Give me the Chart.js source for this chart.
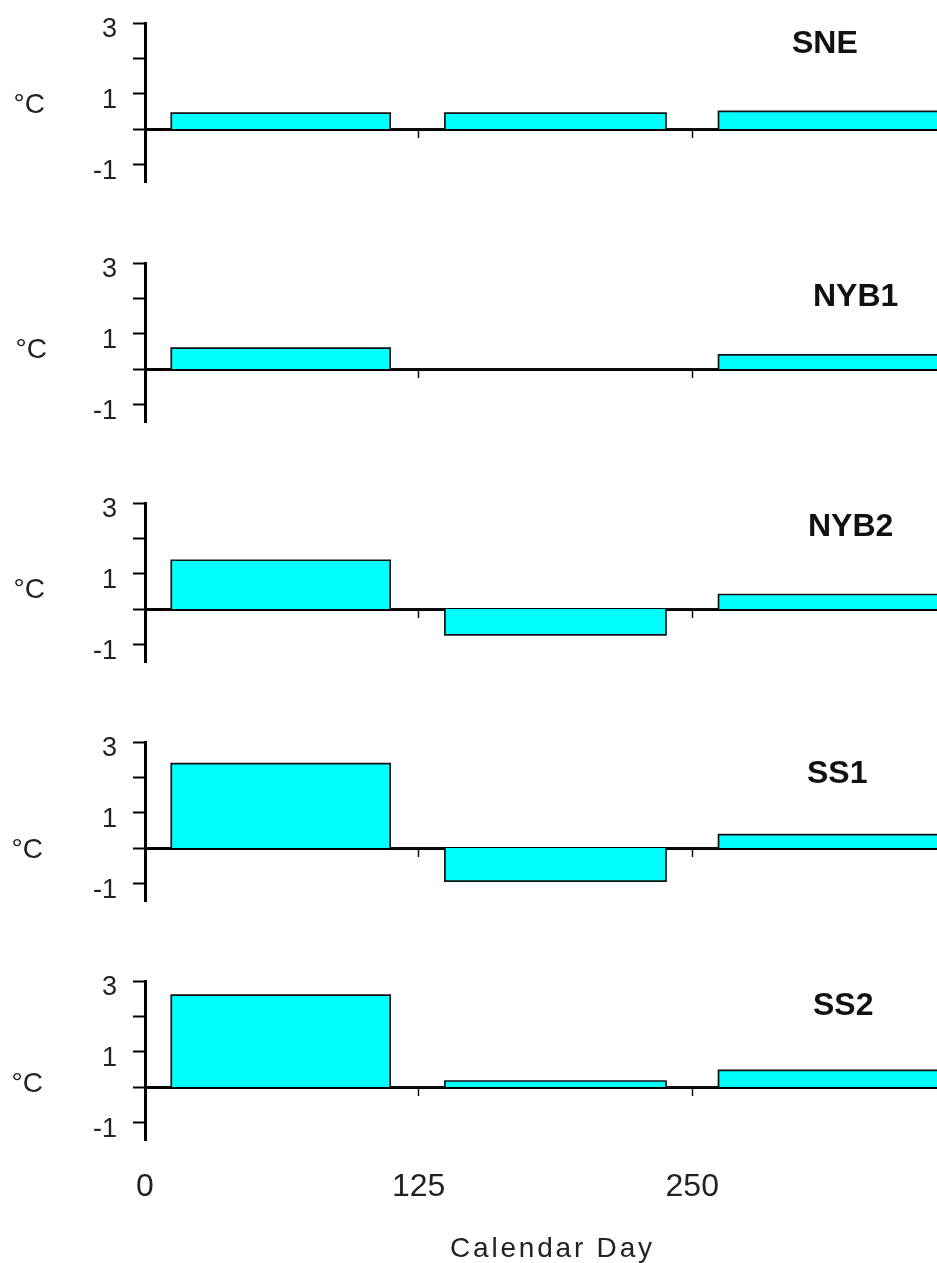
<!DOCTYPE html>
<html>
<head>
<meta charset="utf-8">
<script src="https://cdn.jsdelivr.net/npm/chart.js@4.4.1/dist/chart.umd.min.js"></script>
<style>
  html, body { margin: 0; padding: 0; background: #fff; overflow: hidden; width: 937px; height: 1263px; }
  #stage { position: relative; width: 937px; height: 1263px; overflow: hidden; }
  #stage canvas { position: absolute; left: 0; }
  .lbl { position: absolute; font-family: "Liberation Sans", Arial, sans-serif; color: #111; white-space: nowrap; line-height: 1; }
  .region { font-weight: bold; font-size: 32px; }
  .unit { font-size: 28px; color: #222; }
  .xtitle { font-size: 28px; letter-spacing: 2.8px; color: #222; }
</style>
</head>
<body>
<div id="stage"></div>
<script>
// Seasonal temperature anomaly per region (°C), one value per period
const regions = ['SNE', 'NYB1', 'NYB2', 'SS1', 'SS2'];
const periodStart = [12, 137, 262];   // calendar day each period begins
const periodEnd = [112, 238, 365];    // calendar day each period ends
const sneValues = [0.45, 0.45, 0.5];
const nyb1Values = [0.59, 0, 0.40];
const nyb2Values = [1.38, -0.73, 0.41];
const ss1Values = [2.39, -0.94, 0.38];
const ss2Values = [2.6, 0.17, 0.47];
const regionValues = [sneValues, nyb1Values, nyb2Values, ss1Values, ss2Values];

// Axis ticks
const yTicks = [3, 2, 1, 0, -1];
const yLabelled = [3, 1, -1];
const xTicks = [0, 125, 250];
const xTitle = 'Calendar Day';
const unitLabel = '°C';

// Panel placement on the page
const layout = [
  { top: 11,  unitX: 13.5, unitY: 104,  nameX: 792, nameY: 41.7 },
  { top: 251, unitX: 15.5, unitY: 349,  nameX: 813, nameY: 295 },
  { top: 491, unitX: 13.5, unitY: 589,  nameX: 808, nameY: 524.5 },
  { top: 730, unitX: 11.5, unitY: 849,  nameX: 807, nameY: 771.5 },
  { top: 969, unitX: 11.5, unitY: 1083, nameX: 813, nameY: 1003.5 }
];
const FONT = '"Liberation Sans", Arial, sans-serif';
const PAD_TOP = 12, AREA_H = 159, X_AXIS_H = 125, CANVAS_W = 944;

Chart.defaults.font.family = FONT;
Chart.defaults.color = '#222';

const stage = document.getElementById('stage');

// Step outline of the period blocks: up at the start day, across, down at the end day
function outline(values) {
  const pts = [];
  values.forEach((v, i) => {
    pts.push({ x: periodStart[i], y: 0 }, { x: periodStart[i], y: v },
             { x: periodEnd[i], y: v }, { x: periodEnd[i], y: 0 });
  });
  return pts;
}

function addText(cls, text, x, capCenter, size) {
  const d = document.createElement('div');
  d.className = 'lbl ' + cls;
  d.textContent = text;
  d.style.left = x + 'px';
  d.style.top = (capCenter - 0.49 * size) + 'px';
  stage.appendChild(d);
}

regions.forEach((name, k) => {
  const last = k === regions.length - 1;
  const L = layout[k];
  const cv = document.createElement('canvas');
  cv.width = CANVAS_W;
  cv.height = PAD_TOP + AREA_H + (last ? X_AXIS_H : 2);
  cv.style.top = L.top + 'px';
  stage.appendChild(cv);

  new Chart(cv, {
    type: 'line',
    data: {
      datasets: [{
        data: outline(regionValues[k]),
        xAxisID: 'x',
        yAxisID: 'y',
        borderColor: '#111',
        borderWidth: 1.7,
        backgroundColor: '#00ffff',
        fill: 'origin',
        pointRadius: 0,
        tension: 0,
        borderJoinStyle: 'miter'
      }]
    },
    options: {
      responsive: false,
      animation: false,
      events: [],
      layout: { padding: { top: PAD_TOP, left: 0, right: 0, bottom: last ? 0 : 2 } },
      plugins: { legend: { display: false }, tooltip: { enabled: false } },
      scales: {
        x: {
          type: 'linear', min: 0, max: 365, position: 'bottom',
          display: last,
          grid: { display: false, drawTicks: false },
          border: { display: false },
          ticks: { font: { size: 32 }, color: '#222', padding: 28, maxRotation: 0, autoSkip: false },
          afterBuildTicks: s => { s.ticks = xTicks.map(v => ({ value: v })); },
          afterFit: s => {
            s.height = last ? X_AXIS_H : 0;
            s.paddingLeft = 0; s.paddingRight = 0;
          }
        },
        xMarks: {
          type: 'linear', axis: 'x', min: 0, max: 365, position: { y: 0 },
          grid: { drawOnChartArea: false, drawTicks: true, tickLength: 9, tickWidth: 1.5, tickColor: '#111', color: '#111' },
          border: { display: false },
          ticks: { display: false, autoSkip: false },
          afterBuildTicks: s => { s.ticks = xTicks.map(v => ({ value: v })); }
        },
        y: {
          type: 'linear', min: -1.5, max: 3, position: 'left',
          border: { display: true, color: '#000', width: 3 },
          grid: {
            drawOnChartArea: true,
            color: c => (c.tick && c.tick.value === 0) ? '#000' : 'rgba(0,0,0,0)',
            lineWidth: c => (c.tick && c.tick.value === 0) ? 3 : 1,
            tickColor: '#000', tickWidth: 2, tickLength: 12
          },
          ticks: {
            font: { size: 27 }, color: '#222', padding: 16, labelOffset: 7, autoSkip: false,
            callback: v => yLabelled.includes(v) ? String(v) : ''
          },
          afterBuildTicks: s => { s.ticks = yTicks.map(v => ({ value: v })); },
          afterFit: s => { s.width = 145; s.paddingTop = 0; s.paddingBottom = 0; }
        }
      }
    }
  });

  addText('unit', unitLabel, L.unitX, L.unitY, 28);
  addText('region', name, L.nameX, L.nameY, 32);
});

addText('xtitle', xTitle, 450, 1247.5, 28);
</script>
</body>
</html>
